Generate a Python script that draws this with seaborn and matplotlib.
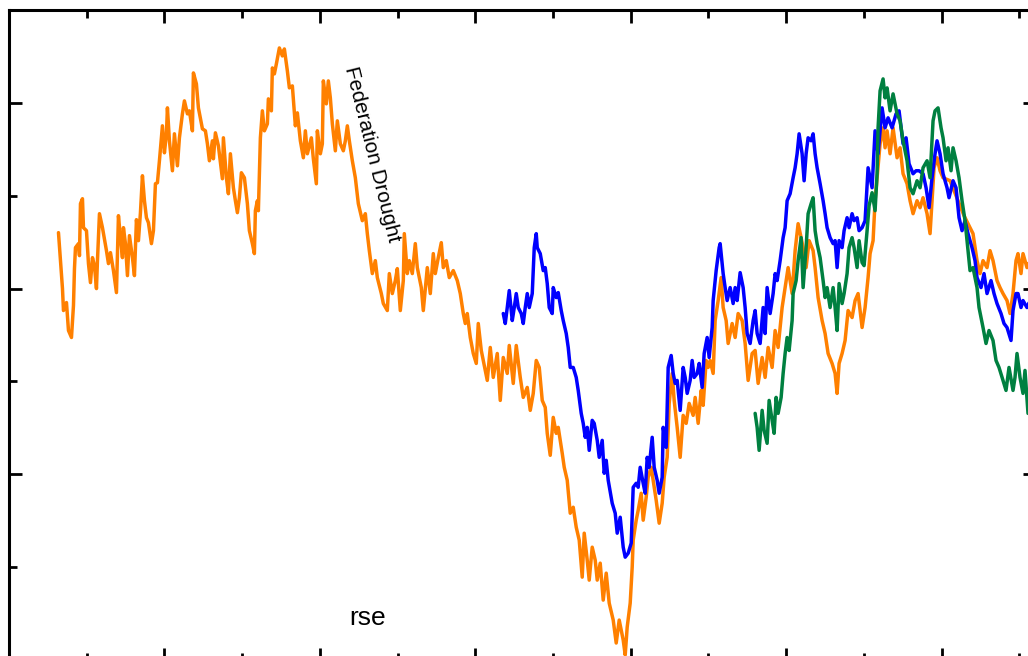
import numpy as np
import pandas as pd
import matplotlib
matplotlib.use("Agg")
import matplotlib.pyplot as plt
import seaborn as sns

# three index series (day number, level)
orange_day = [58, 62, 63, 66, 68, 71, 73, 74, 75, 78, 79, 80, 82, 83, 86, 88, 90, 92, 94, 96,
              97, 99, 102, 106, 108, 110, 113, 116, 118, 120, 122, 123, 125, 127, 129, 132, 134, 136, 138, 140,
              142, 144, 146, 148, 151, 153, 155, 157, 159, 162, 164, 166, 167, 169, 172, 174, 177, 179, 182, 184,
              187, 189, 192, 193, 196, 198, 202, 205, 207, 209, 212, 213, 215, 218, 222, 223, 226, 228, 230, 233,
              235, 237, 239, 241, 244, 247, 249, 252, 254, 255, 257, 258, 260, 262, 264, 267, 268, 271, 272, 274,
              276, 279, 282, 284, 287, 289, 292, 295, 297, 300, 303, 305, 307, 311, 313, 316, 317, 320, 322, 323,
              326, 328, 330, 332, 335, 337, 340, 343, 345, 347, 349, 352, 355, 358, 362, 365, 367, 369, 372, 375,
              377, 381, 383, 387, 389, 392, 395, 397, 400, 403, 404, 407, 409, 412, 415, 417, 421, 423, 427, 430,
              433, 435, 438, 441, 443, 446, 449, 453, 457, 460, 463, 465, 467, 470, 473, 476, 478, 481, 483, 487,
              490, 493, 497, 500, 503, 507, 509, 513, 516, 520, 523, 527, 530, 533, 536, 539, 542, 545, 547, 550,
              553, 556, 558, 562, 564, 567, 570, 573, 576, 579, 582, 584, 587, 589, 592, 595, 597, 600, 603, 606,
              609, 613, 616, 619, 623, 625, 627, 630, 632, 633, 636, 638, 641, 643, 646, 648, 651, 653, 656, 659,
              662, 664, 667, 669, 672, 674, 677, 680, 683, 686, 689, 693, 695, 698, 701, 703, 706, 708, 710, 713,
              715, 718, 721, 723, 726, 728, 732, 735, 738, 742, 745, 748, 752, 755, 758, 762, 765, 768, 772, 775,
              778, 782, 785, 788, 792, 795, 798, 801, 803, 806, 809, 813, 815, 818, 822, 825, 828, 832, 835, 837,
              839, 842, 845, 848, 852, 855, 858, 862, 865, 868, 870, 873, 875, 877, 880, 883, 885, 887, 890, 893,
              897, 900, 903, 907, 910, 913, 917, 920, 923, 927, 930, 932, 934, 937, 940, 943, 950, 958, 964, 970,
              973, 977, 980, 983, 987, 990, 993, 997, 1000, 1003, 1007, 1010, 1013, 1016, 1018, 1021, 1023, 1027, 1030]
orange_level = [428, 372, 350, 358, 330, 323, 355, 392, 413, 417, 405, 457, 462, 433, 430, 397, 378, 403, 395, 372,
                400, 447, 433, 410, 397, 408, 390, 368, 445, 423, 403, 433, 417, 385, 425, 403, 385, 441, 420, 448,
                485, 460, 443, 438, 417, 430, 477, 478, 500, 535, 508, 527, 553, 520, 490, 527, 495, 523, 547, 560,
                547, 550, 530, 588, 577, 553, 532, 530, 517, 500, 520, 502, 528, 515, 482, 523, 483, 467, 507, 473,
                460, 448, 463, 488, 483, 457, 430, 417, 407, 450, 460, 450, 523, 550, 530, 537, 562, 550, 593, 587,
                597, 613, 605, 612, 590, 573, 575, 535, 548, 520, 503, 530, 507, 523, 502, 477, 530, 507, 517, 580,
                557, 580, 563, 537, 510, 540, 517, 510, 520, 535, 520, 500, 483, 457, 440, 447, 427, 410, 387, 400,
                383, 367, 357, 350, 387, 367, 380, 392, 350, 380, 427, 387, 400, 387, 417, 393, 373, 350, 393, 367,
                407, 387, 403, 418, 393, 400, 383, 390, 380, 367, 347, 337, 347, 323, 307, 297, 337, 310, 300, 280,
                313, 283, 307, 260, 303, 287, 315, 277, 315, 283, 263, 273, 250, 267, 300, 293, 260, 253, 227, 205,
                243, 227, 233, 207, 193, 180, 147, 153, 133, 120, 83, 127, 100, 80, 113, 100, 80, 97, 60, 87,
                57, 40, 17, 40, 20, 5, 33, 57, 93, 120, 140, 150, 167, 140, 163, 183, 193, 180, 160, 137,
                157, 183, 203, 257, 287, 260, 233, 203, 245, 237, 257, 245, 263, 237, 270, 255, 300, 293, 300, 287,
                340, 360, 383, 353, 340, 317, 337, 323, 347, 340, 317, 280, 307, 310, 277, 303, 283, 313, 293, 330,
                313, 353, 373, 393, 367, 410, 437, 423, 413, 393, 420, 410, 393, 363, 340, 327, 307, 297, 287, 267,
                297, 307, 320, 350, 343, 360, 367, 333, 353, 383, 407, 420, 460, 483, 517, 533, 513, 530, 507, 533,
                503, 513, 487, 477, 460, 447, 460, 453, 463, 447, 427, 460, 493, 503, 490, 483, 480, 460, 445, 433,
                427, 400, 387, 400, 393, 410, 400, 380, 373, 367, 360, 347, 367, 400, 407, 387, 407, 393, 400]

blue_day = [503, 505, 507, 509, 512, 514, 516, 518, 521, 523, 525, 527, 529, 532, 534, 536, 537, 540, 543, 545,
            547, 549, 552, 553, 556, 558, 561, 563, 566, 568, 570, 573, 576, 578, 581, 583, 585, 587, 589, 592,
            594, 597, 599, 602, 604, 606, 608, 612, 615, 617, 620, 623, 625, 628, 631, 633, 636, 638, 640, 643,
            645, 647, 649, 652, 654, 657, 659, 662, 663, 666, 668, 671, 673, 675, 677, 680, 683, 685, 687, 690,
            692, 694, 697, 699, 702, 704, 707, 709, 712, 713, 716, 719, 720, 723, 725, 727, 730, 733, 735, 737,
            740, 743, 745, 747, 750, 753, 755, 757, 760, 763, 765, 767, 770, 773, 775, 777, 780, 783, 785, 787,
            790, 793, 795, 797, 799, 802, 804, 806, 808, 811, 813, 815, 817, 820, 823, 825, 827, 830, 833, 835,
            837, 839, 842, 844, 847, 849, 852, 854, 857, 859, 862, 865, 868, 872, 875, 878, 882, 885, 888, 892,
            896, 899, 903, 906, 909, 913, 916, 919, 923, 926, 929, 932, 935, 937, 940, 943, 947, 949, 953, 956,
            959, 962, 965, 968, 972, 975, 977, 981, 984, 987, 991, 994, 997, 1001, 1004, 1007, 1011, 1013, 1016, 1018,
            1021, 1023, 1027, 1030]
blue_level = [347, 337, 353, 370, 340, 353, 367, 353, 347, 337, 353, 367, 353, 367, 413, 427, 413, 407, 390, 393,
              377, 353, 347, 373, 363, 368, 350, 340, 327, 313, 293, 293, 283, 270, 247, 237, 223, 233, 210, 240,
              237, 220, 203, 220, 187, 200, 180, 157, 147, 127, 143, 113, 103, 107, 117, 173, 177, 173, 193, 177,
              167, 203, 193, 223, 193, 180, 167, 183, 233, 213, 293, 305, 287, 277, 280, 250, 293, 283, 267, 280,
              300, 283, 287, 297, 273, 307, 323, 303, 333, 360, 390, 413, 417, 387, 373, 360, 373, 357, 373, 360,
              388, 373, 353, 327, 317, 340, 350, 327, 317, 353, 327, 373, 347, 367, 387, 380, 400, 423, 433, 460,
              467, 483, 493, 507, 527, 507, 480, 507, 523, 520, 527, 507, 493, 477, 460, 447, 433, 423, 417, 420,
              393, 420, 413, 430, 443, 433, 447, 440, 443, 430, 433, 440, 493, 473, 530, 507, 553, 533, 543, 533,
              547, 550, 517, 523, 497, 487, 490, 490, 487, 473, 453, 483, 507, 520, 507, 487, 473, 463, 480, 473,
              443, 430, 440, 427, 413, 400, 383, 373, 387, 367, 380, 367, 357, 347, 337, 333, 320, 350, 367, 367,
              353, 360, 353, 360]

green_day = [755, 757, 759, 762, 764, 767, 769, 772, 774, 776, 778, 781, 783, 785, 787, 789, 792, 793, 796, 798,
             801, 803, 806, 808, 811, 813, 815, 817, 820, 823, 825, 827, 830, 833, 835, 837, 839, 842, 844, 847,
             849, 852, 854, 857, 859, 862, 864, 867, 869, 872, 875, 877, 878, 880, 883, 885, 887, 890, 893, 897,
             900, 903, 907, 910, 913, 917, 920, 923, 927, 930, 933, 935, 938, 941, 943, 946, 948, 951, 953, 956,
             959, 962, 965, 967, 970, 973, 977, 979, 983, 986, 989, 993, 996, 999, 1003, 1006, 1009, 1013, 1015, 1017,
             1020, 1023, 1025, 1028]
green_level = [247, 233, 210, 250, 230, 217, 260, 240, 227, 263, 247, 263, 287, 307, 323, 310, 340, 367, 380, 400,
               423, 373, 413, 447, 457, 463, 430, 417, 403, 380, 363, 373, 353, 373, 353, 330, 377, 357, 367, 387,
               413, 423, 413, 393, 420, 398, 395, 430, 455, 468, 450, 487, 533, 570, 582, 563, 573, 550, 567, 547,
               540, 520, 500, 473, 467, 480, 473, 493, 500, 483, 540, 550, 553, 533, 523, 500, 513, 490, 513, 500,
               483, 460, 440, 420, 390, 393, 373, 353, 333, 317, 330, 320, 300, 293, 280, 270, 293, 270, 283, 307,
               283, 267, 290, 247]

series_names = ["orange", "blue", "green"]
series_colors = {"orange": "#ff8000", "blue": "#0000ff", "green": "#008040"}

df = pd.concat([
    pd.DataFrame({"day": orange_day, "level": orange_level, "series": "orange"}),
    pd.DataFrame({"day": blue_day, "level": blue_level, "series": "blue"}),
    pd.DataFrame({"day": green_day, "level": green_level, "series": "green"}),
], ignore_index=True)

sns.set_style("ticks")
plt.rcParams['font.family'] = ['Liberation Sans', 'DejaVu Sans']

fig = plt.figure(figsize=(10.28, 6.56), dpi=100)
# the view is a crop of a bigger frame: right and bottom spines sit just off the canvas
ax = fig.add_axes([9 / 1028, -5 / 656, 1027 / 1028, 651 / 656])

for name in series_names:
    sub = df[df.series == name]
    sns.lineplot(data=sub, x="day", y="level", color=series_colors[name], lw=2.5,
                 estimator=None, sort=False, ax=ax, legend=False)

ax.set_xlim(9, 1036)
ax.set_ylim(-1, 650)
ax.set_xticks(np.arange(8.5, 1040, 155.5))
ax.set_xticks(np.arange(86.25, 1040, 155.5), minor=True)
ax.set_yticks([0, 186, 372, 558])
ax.set_yticks([93, 279, 465, 651], minor=True)
ax.tick_params(which="both", direction="in", top=True, right=True, bottom=True, left=True,
               labelleft=False, labelbottom=False, width=2, color="black")
ax.tick_params(which="major", length=9.5)
ax.tick_params(which="minor", length=5.5)
ax.set_xlabel("")
ax.set_ylabel("")
for sp in ax.spines.values():
    sp.set_linewidth(2.2)
    sp.set_color("black")
    sp.set_visible(True)

ax.text(372, 507, "Federation Drought", rotation=-76, rotation_mode="anchor",
        ha="center", va="center", fontsize=15, color="black")
ax.text(349, 35, "rse", ha="left", va="baseline", fontsize=19, color="black")

fig.savefig("out.png", dpi=100)
